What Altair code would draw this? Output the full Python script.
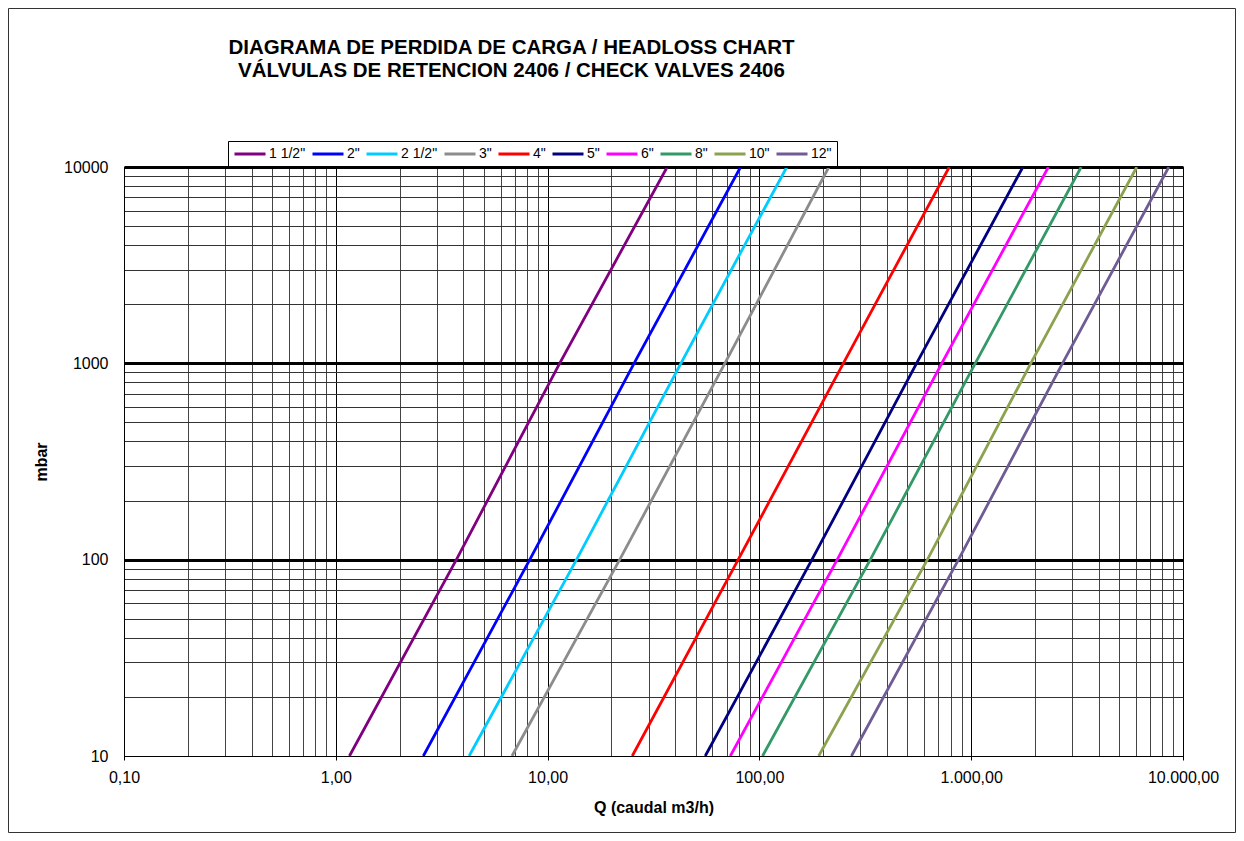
import altair as alt
import pandas as pd

# Series names and colours (legend order)
sizes = ['1 1/2"', '2"', '2 1/2"', '3"', '4"', '5"', '6"', '8"', '10"', '12"']
colors = ["#800080", "#0000FF", "#00CCFF", "#8C8C8C", "#FF0000",
          "#000080", "#FF00FF", "#339966", "#8DA24E", "#705C94"]

# Headloss points (mbar) at which flow was read
dp = [10, 100, 1000, 10000]

# Flow Q (m3/h) for each valve size at the dp values above
q_1_5 = [1.16, 3.71, 11.4, 36.7]
q_2 = [2.59, 8.24, 25.6, 81.5]
q_2_5 = [4.26, 13.7, 42.6, 134.7]
q_3 = [6.79, 21.9, 68.7, 212.8]
q_4 = [25.1, 79.4, 249.0, 788.0]
q_5 = [55.5, 177.0, 552.0, 1754.0]
q_6 = [72.9, 233.0, 726.0, 2315.0]
q_8 = [103.5, 334.0, 1045.0, 3305.0]
q_10 = [190.5, 621.0, 1911.0, 6050.0]
q_12 = [272.0, 871.0, 2698.0, 8570.0]

# Axis tick labels
x_tick_labels = ["0,10", "1,00", "10,00", "100,00", "1.000,00", "10.000,00"]
y_tick_labels = ["10", "100", "1000", "10000"]

series = [q_1_5, q_2, q_2_5, q_3, q_4, q_5, q_6, q_8, q_10, q_12]
rows = []
for name, qs in zip(sizes, series):
    for i, (q, p) in enumerate(zip(qs, dp)):
        rows.append({"size": name, "Q": q, "dp": p, "order": i})
df = pd.DataFrame(rows)

# grid values (log decades with minor steps)
x_grid = [m * 10 ** e for e in range(-1, 4) for m in range(1, 10)] + [10000]
x_grid = [round(v, 6) for v in x_grid]
y_grid = [m * 10 ** e for e in range(1, 4) for m in range(1, 10)] + [10000]

FONT = "Liberation Sans"
decade_test = "abs(log(datum.value)/LN10 - round(log(datum.value)/LN10)) < 0.000001"
x_label_expr = ("(" + decade_test + ") ? " + str(x_tick_labels) +
                "[round(log(datum.value)/LN10)+1] : ''")
y_label_expr = ("(" + decade_test + ") ? " + str(y_tick_labels) +
                "[round(log(datum.value)/LN10)-1] : ''")

x_axis = alt.Axis(
    values=x_grid,
    labelExpr=x_label_expr,
    labelFont=FONT, labelFontSize=16, labelColor="black",
    labelPadding=9, labelFlush=False, labelOverlap=False,
    title="Q (caudal m3/h)", titleFont=FONT, titleFontSize=16,
    titleFontWeight="bold", titleColor="black", titlePadding=14,
    domainColor="black", domainWidth=1,
    tickSize=4,
    tickColor={"condition": {"test": decade_test, "value": "black"}, "value": "transparent"},
    grid=True,
    gridColor={"condition": {"test": decade_test, "value": "#000000"}, "value": "#444444"},
    gridWidth=1,
    gridOpacity=1,
)

y_axis = alt.Axis(
    values=y_grid,
    labelExpr=y_label_expr,
    labelFont=FONT, labelFontSize=16, labelColor="black",
    labelPadding=16, labelOverlap=False, labelFlush=False,
    ticks=False,
    title="mbar", titleFont=FONT, titleFontSize=16, titleFontWeight="bold",
    titleColor="black", titlePadding=14,
    domainColor="black", domainWidth=1,
    grid=True,
    gridColor={"condition": {"test": decade_test, "value": "#000000"}, "value": "#333333"},
    gridWidth={"condition": {"test": decade_test + " && datum.value > 10", "value": 3}, "value": 1},
    gridOpacity=1,
)

lines = alt.Chart(df).mark_line(strokeWidth=2.8, clip=True).encode(
    x=alt.X("Q:Q", scale=alt.Scale(type="log", domain=[0.1, 10000], nice=False), axis=x_axis),
    y=alt.Y("dp:Q", scale=alt.Scale(type="log", domain=[10, 10000], nice=False), axis=y_axis),
    color=alt.Color(
        "size:N",
        scale=alt.Scale(domain=sizes, range=colors),
        sort=sizes,
        legend=alt.Legend(
            orient="none", legendX=104, legendY=-26, direction="horizontal",
            title=None, symbolType="stroke", symbolSize=961, symbolStrokeWidth=3,
            labelFont=FONT, labelFontSize=14, labelColor="black", labelOffset=2,
            columnPadding=5, padding=5, strokeColor="#000000",
            columns=10, clipHeight=16,
        ),
    ),
    order="order:Q",
)

frame = alt.Chart(alt.Data(values=[{}])).mark_rect(
    fill=None, stroke="#333333", strokeWidth=1, clip=False
).encode(
    x=alt.value(-115.5), x2=alt.value(1059 + 52.5),
    y=alt.value(-158.5), y2=alt.value(589 + 76.5),
)

chart = alt.layer(frame, lines).properties(
    width=1059, height=589,
    autosize=alt.AutoSizeParams(type="none"),
    padding={"left": 116, "top": 159, "right": 53, "bottom": 77},
    title=alt.TitleParams(
        text=["DIAGRAMA DE PERDIDA DE CARGA / HEADLOSS CHART",
              "VÁLVULAS DE RETENCION 2406 / CHECK VALVES 2406"],
        font=FONT, fontSize=20.5, fontWeight="bold", color="black",
        anchor="middle", frame="group", dx=-142, offset=-73, lineHeight=22.5,
        baseline="top",
    ),
).configure_view(stroke="black", strokeWidth=1)

chart.save("out.html", embed_options={"renderer": "svg", "actions": False})
